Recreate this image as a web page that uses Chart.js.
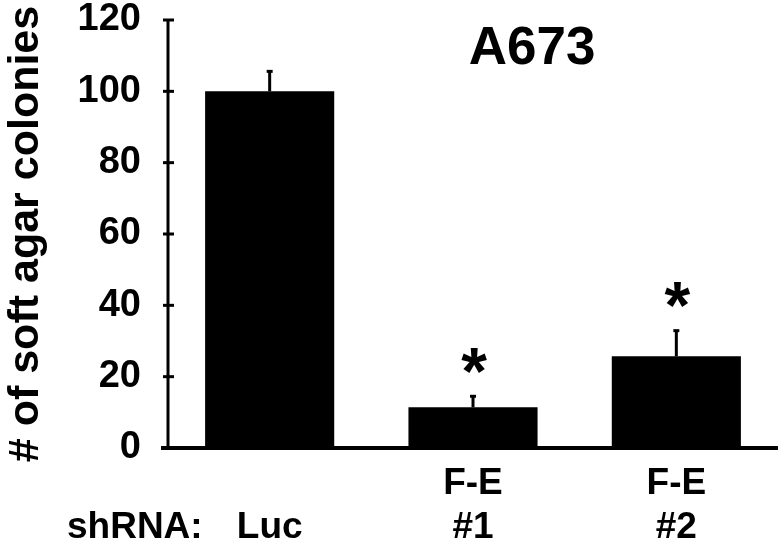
<!DOCTYPE html>
<html>
<head>
<meta charset="utf-8">
<script src="https://cdn.jsdelivr.net/npm/chart.js@4"></script>
<style>
  html, body { margin: 0; padding: 0; background: #fff; }
  #wrap { width: 778px; height: 543px; position: relative; }
</style>
</head>
<body>
<div id="wrap"><canvas id="c"></canvas></div>
<script>
// data
var groups = ['Luc', 'F-E #1', 'F-E #2'];
var labelLines = [['Luc'], ['F-E', '#1'], ['F-E', '#2']];
var colonies = [100, 11.4, 25.7];
var errTop = [105.6, 14.5, 32.9];
var starred = [false, true, true];
var yTicks = [0, 20, 40, 60, 80, 100, 120];

var FONT = '"Liberation Sans", Arial, sans-serif';

// error bars, asterisks, axis ticks, x labels, title
var extras = {
  id: 'extras',
  afterDatasetsDraw: function (chart) {
    var ctx = chart.ctx, x = chart.scales.x, y = chart.scales.y;
    var area = chart.chartArea;
    ctx.save();
    ctx.strokeStyle = '#000';
    ctx.fillStyle = '#000';

    // error bars (upper only)
    ctx.lineWidth = 3;
    for (var i = 0; i < colonies.length; i++) {
      var cx = x.getPixelForValue(i);
      var yb = y.getPixelForValue(colonies[i]);
      var ye = y.getPixelForValue(errTop[i]);
      ctx.beginPath();
      ctx.moveTo(cx, yb);
      ctx.lineTo(cx, ye);
      ctx.stroke();
      ctx.beginPath();
      ctx.moveTo(cx - 3, ye);
      ctx.lineTo(cx + 3, ye);
      ctx.stroke();
      if (starred[i]) {
        var sz = 66;
        ctx.font = 'bold ' + sz + 'px ' + FONT;
        ctx.textAlign = 'center';
        ctx.textBaseline = 'alphabetic';
        ctx.fillText('*', cx + 1, ye - 40 + 0.57 * sz);
      }
    }

    // axes
    ctx.lineWidth = 3;
    ctx.beginPath();
    ctx.moveTo(area.left, y.getPixelForValue(120) - 1);
    ctx.lineTo(area.left, area.bottom);
    ctx.stroke();
    ctx.lineWidth = 4;
    ctx.beginPath();
    ctx.moveTo(area.left - 7, area.bottom);
    ctx.lineTo(chart.width, area.bottom);
    ctx.stroke();

    // y ticks crossing the axis
    ctx.lineWidth = 3;
    yTicks.forEach(function (v) {
      var py = y.getPixelForValue(v);
      ctx.beginPath();
      ctx.moveTo(area.left - 5, py);
      ctx.lineTo(area.left + 6, py);
      ctx.stroke();
    });

    // x labels
    ctx.font = 'bold 37px ' + FONT;
    ctx.textAlign = 'center';
    ctx.textBaseline = 'middle';
    labelLines.forEach(function (lines, i) {
      var cx = x.getPixelForValue(i);
      var yy = lines.length === 1 ? [528] : [484, 528];
      lines.forEach(function (t, k) { ctx.fillText(t, cx, yy[k]); });
    });
    ctx.textAlign = 'left';
    ctx.fillText('shRNA:', 67, 528);

    // panel title
    ctx.font = 'bold 53px ' + FONT;
    ctx.textAlign = 'center';
    ctx.fillText('A673', 532, 49);
    ctx.restore();
  }
};

new Chart(document.getElementById('c'), {
  type: 'bar',
  data: {
    labels: groups,
    datasets: [{
      data: colonies,
      backgroundColor: '#000',
      borderWidth: 0,
      categoryPercentage: 1,
      barPercentage: 0.635
    }]
  },
  options: {
    responsive: true,
    maintainAspectRatio: false,
    animation: false,
    layout: { padding: { top: 20, right: 0, left: 0, bottom: 0 } },
    plugins: { legend: { display: false }, tooltip: { enabled: false } },
    scales: {
      x: {
        grid: { display: false, drawTicks: false },
        border: { display: false },
        ticks: { display: false },
        afterFit: function (s) { s.height = 95; }
      },
      y: {
        min: 0, max: 120,
        afterBuildTicks: function (s) { s.ticks = yTicks.map(function (v) { return { value: v }; }); },
        grid: { display: false, drawTicks: false },
        border: { display: false },
        ticks: { color: '#000', font: { family: FONT, weight: 'bold', size: 38 }, padding: 27 },
        title: {
          display: true, text: '# of soft agar colonies', color: '#000',
          font: { family: FONT, weight: 'bold', size: 43 }, padding: { top: 0, bottom: 0 }
        },
        afterFit: function (s) { s.width = 168; s.paddingTop = 0; s.paddingBottom = 0; }
      }
    }
  },
  plugins: [extras]
});
</script>
</body>
</html>
